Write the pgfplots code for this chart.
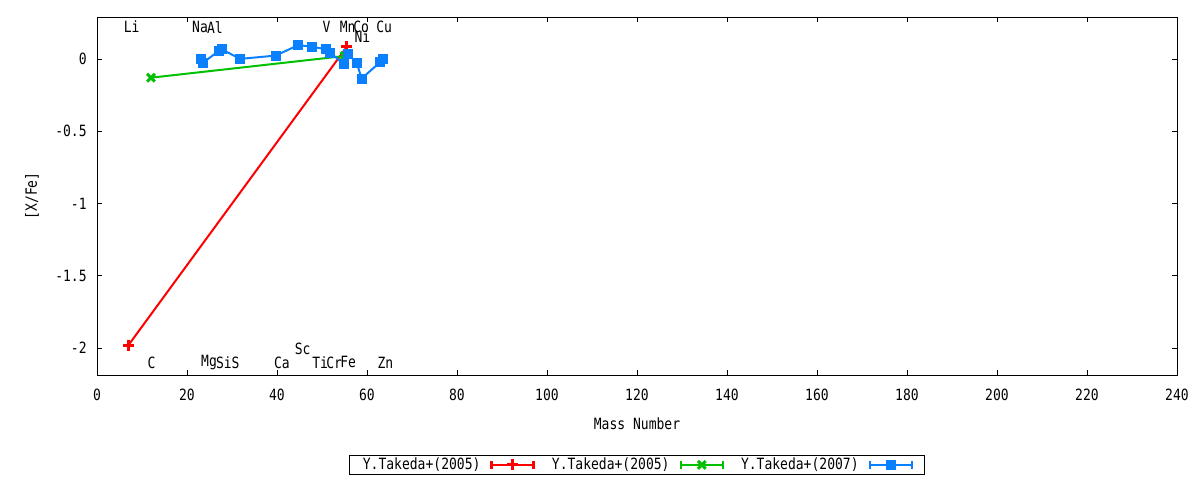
\documentclass[border=0pt]{standalone}
\usepackage{fontspec}
\setmainfont{DejaVu Sans Mono}[FakeStretch=0.84]
\usepackage{pgfplots}
\pgfplotsset{compat=1.18}

\definecolor{gpred}{RGB}{255,0,0}
\definecolor{gpgreen}{RGB}{0,192,0}
\definecolor{gpblue}{RGB}{10,128,255}

\newcommand{\gpfont}{\fontsize{15.5bp}{18bp}\selectfont}

\pgfplotsset{
  errleg/.style={
    legend image code/.code={
      \draw[line width=2.5bp, mark repeat=2, mark phase=2]
        plot coordinates {(0bp,0bp) (21bp,0bp) (42bp,0bp)};
      \draw[line width=2.5bp, mark=none]
        (0bp,-4bp) -- (0bp,4bp) (42bp,-4bp) -- (42bp,4bp);
    }
  }
}

\begin{document}
\gpfont
\begin{tikzpicture}[x=1bp,y=1bp]
\useasboundingbox (0,0) rectangle (1200,480);
\begin{axis}[
  at={(97bp,105bp)}, anchor=south west,
  scale only axis, width=1080bp, height=358bp,
  xmin=0, xmax=240, ymin=-2.187, ymax=0.29,
  xtick={0,20,...,240}, ytick={-2,-1.5,-1,-0.5,0},
  tick align=inside, major tick length=5bp,
  axis line style={line width=0.8bp},
  every tick/.style={black, line width=0.8bp},
  /pgf/number format/assume math mode=true,
  ticklabel style={font=\gpfont},
  xticklabel style={yshift=-9bp},
  yticklabel style={xshift=-5bp},
  label style={font=\gpfont},
  xlabel={Mass Number}, ylabel={[X/Fe]},
  xlabel style={at={(axis description cs:0.5,-0.137)}, anchor=center},
  ylabel style={at={(axis description cs:-0.0602,0.5)}, anchor=center},
  legend columns=3, legend plot pos=right,
  legend style={at={(axis description cs:0.5,-0.251)}, anchor=center,
    draw=black, line width=0.8bp, inner xsep=11bp, inner ysep=1bp,
    font=\gpfont, nodes={inner xsep=2bp, inner ysep=1bp},
    /tikz/every odd column/.append style={column sep=8bp},
    /tikz/every even column/.append style={column sep=15bp}},
  clip=false,
]
\addplot[gpred, line width=2bp, mark=+, mark size=5.5bp,
  mark options={line width=3bp}, errleg] coordinates {
  (7,-1.98) (55.5,0.083)
};
\addlegendentry{Y.Takeda+(2005)}

\addplot[gpgreen, line width=2bp, mark=x, mark size=5.5bp,
  mark options={line width=3bp}, errleg] coordinates {
  (12,-0.13) (55,0.02)
};
\addlegendentry{Y.Takeda+(2005)}

\addplot[gpblue, line width=2bp, mark=square*, mark size=4.5bp,
  mark options={line width=0.5bp}, errleg] coordinates {
  (23,0.00) (23.6,-0.025) (27,0.053) (27.7,0.067) (31.8,0.00)
  (39.7,0.023) (44.7,0.095) (47.7,0.085) (50.8,0.067) (51.8,0.044)
  (54.9,-0.037) (55.7,0.033) (57.7,-0.025) (58.8,-0.136)
  (62.9,-0.023) (63.6,0.00)
};
\addlegendentry{Y.Takeda+(2007)}

\begin{scope}[every node/.style={font=\gpfont, inner sep=0pt}]
\node at (axis cs:7.7,0.22) {Li};
\node at (axis cs:22.9,0.22) {Na};
\node at (axis cs:26.2,0.22) {Al};
\node at (axis cs:51,0.22) {V};
\node at (axis cs:55.7,0.22) {Mn};
\node at (axis cs:58.7,0.22) {Co};
\node at (axis cs:63.8,0.22) {Cu};
\node at (axis cs:59.0,0.152) {Ni};
\node at (axis cs:12.1,-2.10) {C};
\node at (axis cs:24.9,-2.10) {Mg};
\node at (axis cs:28.2,-2.10) {Si};
\node at (axis cs:30.8,-2.10) {S};
\node at (axis cs:41.1,-2.10) {Ca};
\node at (axis cs:45.7,-2.007) {Sc};
\node at (axis cs:49.6,-2.10) {Ti};
\node at (axis cs:52.7,-2.10) {Cr};
\node at (axis cs:55.8,-2.10) {Fe};
\node at (axis cs:64.1,-2.10) {Zn};
\end{scope}
\end{axis}
\end{tikzpicture}
\end{document}
